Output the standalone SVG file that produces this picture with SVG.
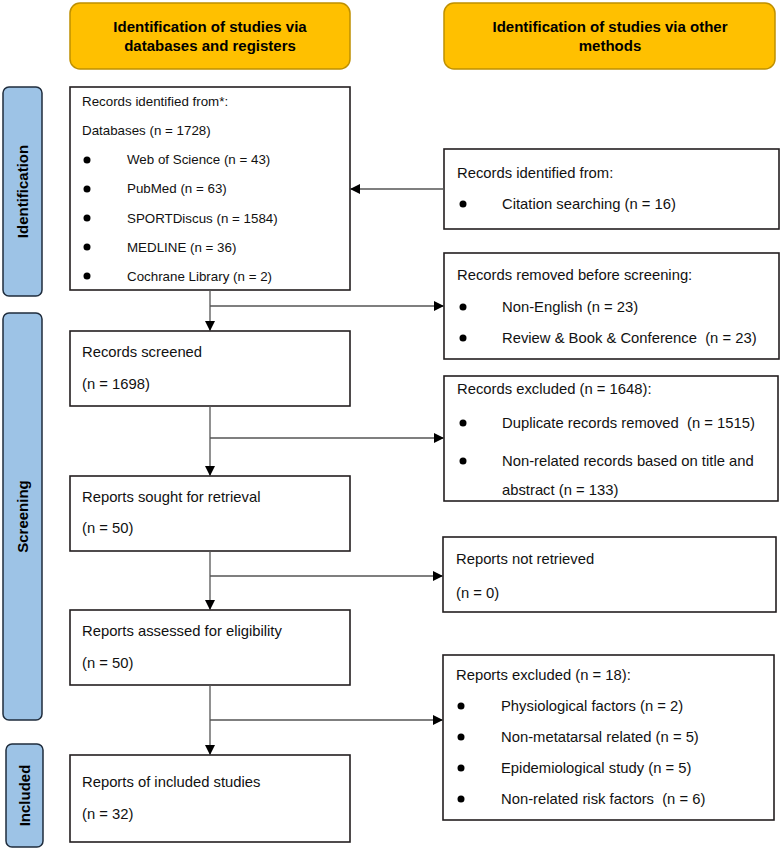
<svg xmlns="http://www.w3.org/2000/svg" width="782" height="850" viewBox="0 0 782 850">
<style>
.hdr{fill:#FFC000;stroke:#BF9000;stroke-width:1.5}
.side{fill:#9DC3E6;stroke:#1F2D3D;stroke-width:1.5}
.box{fill:#fff;stroke:#231F20;stroke-width:1.6}
.ht{font-family:"Liberation Sans",Arial,sans-serif;font-size:15px;font-weight:bold;fill:#000;text-anchor:middle}
.st{font-family:"Liberation Sans",Arial,sans-serif;font-size:15px;font-weight:bold;fill:#000;text-anchor:middle}
.t{font-family:"Liberation Sans",Arial,sans-serif;font-size:14.8px;fill:#111}
.s{font-size:13.35px}
.b{fill:#000}
.c{stroke:#555;stroke-width:1.3;fill:none}
</style>
<defs>
<marker id="ah" markerWidth="10" markerHeight="10" refX="9" refY="5" orient="auto" markerUnits="userSpaceOnUse">
<path d="M0,0 L10,5 L0,10 Z" fill="#000"/>
</marker>
</defs>

<g id="hdr-left"><rect class="hdr" x="70" y="3" width="280" height="66" rx="10"/>
<text class="ht" x="210" y="32">Identification of studies via</text>
<text class="ht" x="210" y="51">databases and registers</text></g>
<g id="hdr-right"><rect class="hdr" x="444" y="3" width="331" height="66" rx="10"/>
<text class="ht" x="610" y="32">Identification of studies via other</text>
<text class="ht" x="610" y="51">methods</text></g>

<g id="side-identification"><rect class="side" x="3" y="87" width="39" height="209" rx="6"/>
<text class="st" transform="translate(28,191.5) rotate(-90)">Identification</text></g>
<g id="side-screening"><rect class="side" x="3" y="313" width="39" height="407" rx="6"/>
<text class="st" transform="translate(28,516.5) rotate(-90)">Screening</text></g>
<g id="side-included"><rect class="side" x="6" y="744" width="37" height="103" rx="6"/>
<text class="st" transform="translate(30,795.5) rotate(-90)">Included</text></g>

<g id="n-identified"><rect class="box" x="70" y="87" width="280" height="203"/>
<text class="t s" x="82" y="106">Records identified from*:</text>
<text class="t s" x="82" y="135">Databases (n = 1728)</text>
<circle class="b" cx="87" cy="160" r="3.5"/><text class="t s" x="127" y="164">Web of Science (n = 43)</text>
<circle class="b" cx="87" cy="189" r="3.5"/><text class="t s" x="127" y="193">PubMed (n = 63)</text>
<circle class="b" cx="87" cy="218" r="3.5"/><text class="t s" x="127" y="223">SPORTDiscus (n = 1584)</text>
<circle class="b" cx="87" cy="247" r="3.5"/><text class="t s" x="127" y="252">MEDLINE (n = 36)</text>
<circle class="b" cx="87" cy="276" r="3.5"/><text class="t s" x="127" y="281">Cochrane Library (n = 2)</text></g>

<g id="n-other"><rect class="box" x="444" y="149" width="335" height="80"/>
<text class="t" x="457" y="178">Records identified from:</text>
<circle class="b" cx="463" cy="204" r="3.5"/><text class="t" x="502" y="209">Citation searching (n = 16)</text></g>

<g id="n-removed"><rect class="box" x="444" y="253" width="335" height="106"/>
<text class="t" x="457" y="280">Records removed before screening:</text>
<circle class="b" cx="463" cy="307" r="3.5"/><text class="t" x="502" y="312">Non-English (n = 23)</text>
<circle class="b" cx="463" cy="338" r="3.5"/><text class="t" x="502" y="343" xml:space="preserve">Review &amp; Book &amp; Conference  (n = 23)</text></g>

<g id="n-screened"><rect class="box" x="70" y="331" width="280" height="75"/>
<text class="t" x="82" y="357">Records screened</text>
<text class="t" x="82" y="389">(n = 1698)</text></g>

<g id="n-excluded"><rect class="box" x="444" y="376" width="334" height="125"/>
<text class="t" x="457" y="394">Records excluded (n = 1648):</text>
<circle class="b" cx="463" cy="423" r="3.5"/><text class="t" x="502" y="428" xml:space="preserve">Duplicate records removed  (n = 1515)</text>
<circle class="b" cx="463" cy="461" r="3.5"/><text class="t" x="502" y="466">Non-related records based on title and</text>
<text class="t" x="502" y="495">abstract (n = 133)</text></g>

<g id="n-sought"><rect class="box" x="70" y="476" width="280" height="75"/>
<text class="t" x="82" y="502">Reports sought for retrieval</text>
<text class="t" x="82" y="533">(n = 50)</text></g>

<g id="n-notretrieved"><rect class="box" x="443" y="537" width="333" height="75"/>
<text class="t" x="456" y="564">Reports not retrieved</text>
<text class="t" x="456" y="598">(n = 0)</text></g>

<g id="n-assessed"><rect class="box" x="70" y="610" width="280" height="75"/>
<text class="t" x="82" y="636">Reports assessed for eligibility</text>
<text class="t" x="82" y="668">(n = 50)</text></g>

<g id="n-reportsexcluded"><rect class="box" x="443" y="655" width="331" height="165"/>
<text class="t" x="456" y="680">Reports excluded (n = 18):</text>
<circle class="b" cx="461" cy="706" r="3.5"/><text class="t" x="501" y="711">Physiological factors (n = 2)</text>
<circle class="b" cx="461" cy="737" r="3.5"/><text class="t" x="501" y="742">Non-metatarsal related (n = 5)</text>
<circle class="b" cx="461" cy="768" r="3.5"/><text class="t" x="501" y="773">Epidemiological study (n = 5)</text>
<circle class="b" cx="461" cy="799" r="3.5"/><text class="t" x="501" y="804" xml:space="preserve">Non-related risk factors  (n = 6)</text></g>

<g id="n-included"><rect class="box" x="70" y="755" width="280" height="87"/>
<text class="t" x="82" y="787">Reports of included studies</text>
<text class="t" x="82" y="819">(n = 32)</text></g>

<g id="connectors">
<path class="c" d="M444,189 H351" marker-end="url(#ah)"/>
<path class="c" d="M210,290 V330" marker-end="url(#ah)"/>
<path class="c" d="M210,306 H443" marker-end="url(#ah)"/>
<path class="c" d="M210,406 V475" marker-end="url(#ah)"/>
<path class="c" d="M210,438 H443" marker-end="url(#ah)"/>
<path class="c" d="M210,551 V609" marker-end="url(#ah)"/>
<path class="c" d="M210,576 H442" marker-end="url(#ah)"/>
<path class="c" d="M210,685 V754" marker-end="url(#ah)"/>
<path class="c" d="M210,720 H442" marker-end="url(#ah)"/>
</g>
</svg>
